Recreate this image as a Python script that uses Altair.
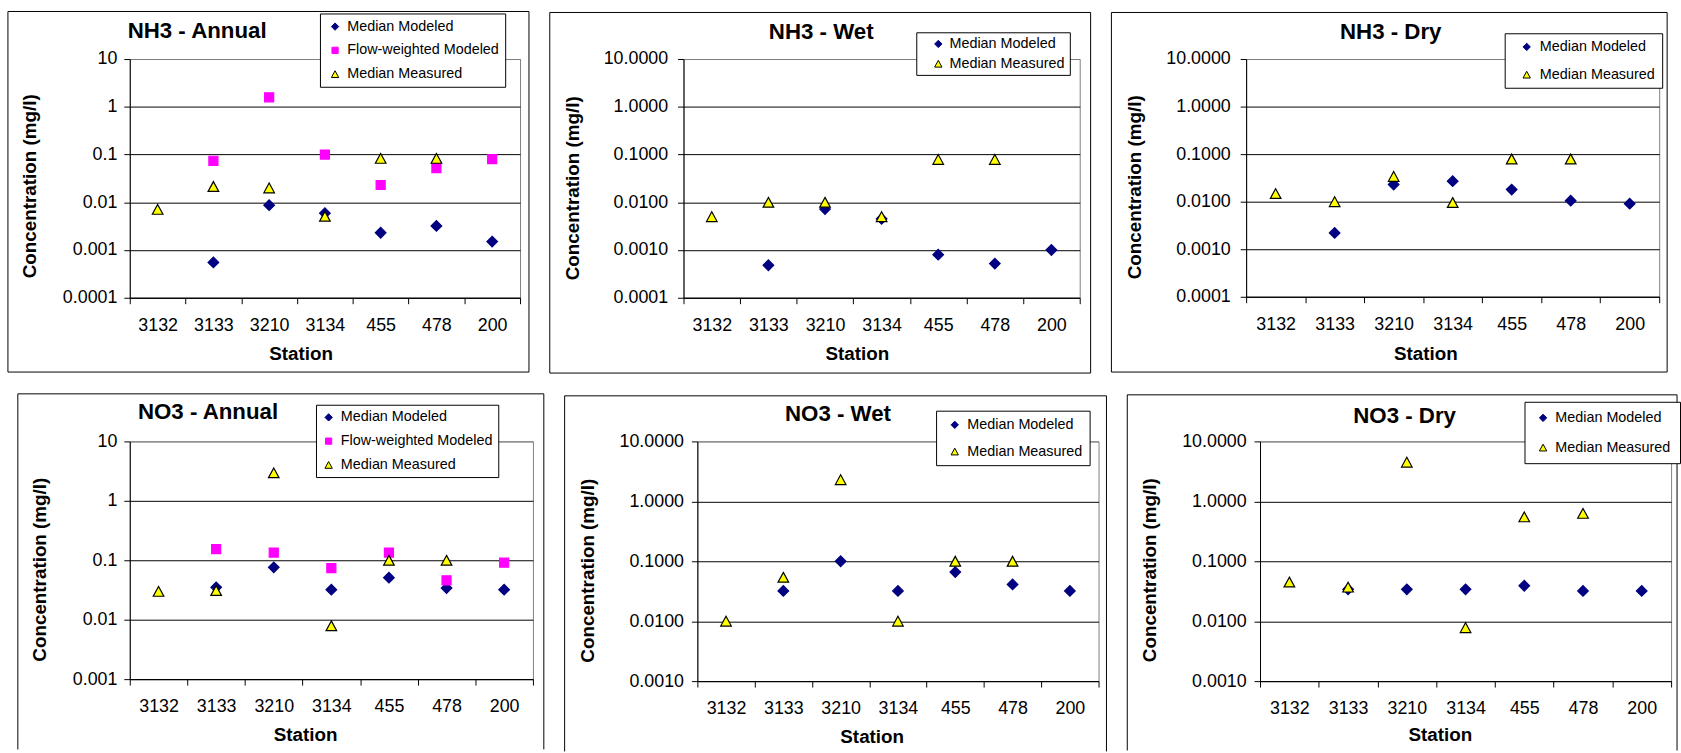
import altair as alt
import pandas as pd

FONT = "Liberation Sans"

stations = ["3132", "3133", "3210", "3134", "455", "478", "200"]
series_names = ["Median Modeled", "Flow-weighted Modeled", "Median Measured"]
series_fill = ["#000080", "#FF00FF", "#FFFF00"]
series_stroke = ["#000080", "#FF00FF", "#000000"]
series_shape = ["diamond",
                "M-0.85,-0.85L0.85,-0.85L0.85,0.85L-0.85,0.85Z",
                "M0,-0.92L1,0.92L-1,0.92Z"]

nh3_annual_modeled = [None, 0.00055, 0.0087, 0.0059, 0.0023, 0.0032, 0.0015]
nh3_annual_flow = [None, 0.074, 1.58, 0.10, 0.023, 0.052, 0.080]
nh3_annual_measured = [0.0071, 0.0214, 0.020, 0.0051, 0.083, 0.083, None]
nh3_wet_modeled = [None, 0.00048, 0.0072, 0.0045, 0.0008, 0.00052, 0.0010]
nh3_wet_measured = [0.005, 0.010, 0.010, 0.005, 0.079, 0.079, None]
nh3_dry_modeled = [None, 0.0022, 0.023, 0.027, 0.018, 0.0105, 0.0091]
nh3_dry_measured = [0.0148, 0.010, 0.034, 0.0096, 0.079, 0.079, None]
no3_annual_modeled = [None, 0.035, 0.076, 0.032, 0.051, 0.034, 0.032]
no3_annual_flow = [None, 0.154, 0.135, 0.074, 0.135, 0.046, 0.091]
no3_annual_measured = [0.030, 0.031, 2.96, 0.0079, 0.10, 0.10, None]
no3_wet_modeled = [None, 0.032, 0.10, 0.032, 0.066, 0.041, 0.032]
no3_wet_measured = [0.010, 0.054, 2.3, 0.010, 0.10, 0.10, None]
no3_dry_modeled = [None, 0.034, 0.034, 0.034, 0.039, 0.032, 0.032]
no3_dry_measured = [0.045, 0.037, 4.5, 0.0078, 0.55, 0.63, None]

nh3_ticks = [0.0001, 0.001, 0.01, 0.1, 1, 10]
no3_ticks = [0.001, 0.01, 0.1, 1, 10]

panels_row1 = [
    dict(title="NH3 - Annual", fmt="~g", ticks=nh3_ticks,
         series=[("Median Modeled", nh3_annual_modeled),
                 ("Flow-weighted Modeled", nh3_annual_flow),
                 ("Median Measured", nh3_annual_measured)],
         w=394, h=241, L=123, R=9, T=48, B=75, tx=68, ty=-28,
         ytx=-101, yty=128, xtx=172.5, xty=56, ylp=7,
         leg=dict(x=192, y=-46, pad=6, rp=9, so=2, lo=5)),
    dict(title="NH3 - Wet", fmt=".4f", ticks=nh3_ticks,
         series=[("Median Modeled", nh3_wet_modeled),
                 ("Median Measured", nh3_wet_measured)],
         w=400, h=241, L=135, R=11, T=47, B=76, tx=139, ty=-27,
         ytx=-112, yty=130, xtx=175, xty=56.5, ylp=10,
         leg=dict(x=235, y=-27, pad=4.5, rp=5, so=10.5, lo=4)),
    dict(title="NH3 - Dry", fmt=".4f", ticks=nh3_ticks,
         series=[("Median Modeled", nh3_dry_modeled),
                 ("Median Measured", nh3_dry_measured)],
         w=417, h=240, L=136, R=8, T=47, B=76, tx=146, ty=-27,
         ytx=-113, yty=129, xtx=181, xty=57, ylp=10,
         leg=dict(x=261, y=-26, pad=6.5, rp=13, so=8.5, lo=6)),
]
panels_row2 = [
    dict(title="NO3 - Annual", fmt="~g", ticks=no3_ticks,
         series=[("Median Modeled", no3_annual_modeled),
                 ("Flow-weighted Modeled", no3_annual_flow),
                 ("Median Measured", no3_annual_measured)],
         w=407, h=240, L=113, R=11, T=48, B=71, tx=79, ty=-30,
         ytx=-91.5, yty=129, xtx=177, xty=55.5, ylp=7,
         leg=dict(x=188, y=-37, pad=5.5, rp=9, so=0, lo=5)),
    dict(title="NO3 - Wet", fmt=".4f", ticks=no3_ticks,
         series=[("Median Modeled", no3_wet_modeled),
                 ("Median Measured", no3_wet_measured)],
         w=405, h=242, L=134, R=8, T=46, B=71, tx=142, ty=-28,
         ytx=-111, yty=130, xtx=176, xty=55.5, ylp=8,
         leg=dict(x=241, y=-31, pad=7, rp=12, so=4.6, lo=5.4)),
    dict(title="NO3 - Dry", fmt=".4f", ticks=no3_ticks,
         series=[("Median Modeled", no3_dry_modeled),
                 ("Median Measured", no3_dry_measured)],
         w=415, h=242, L=134, R=6, T=47, B=70, tx=146, ty=-26,
         ytx=-111, yty=129.5, xtx=181.5, xty=54, ylp=8,
         leg=dict(x=267, y=-40, pad=9, rp=15, so=2.5, lo=5.1)),
]


def one_row():
    return alt.Data(values=[{"k": 0}])


def make_panel(p, closed):
    rows = []
    for name, vals in p["series"]:
        for st, v in zip(stations, vals):
            if v is not None:
                rows.append({"station": st, "series": name, "value": v})
    df = pd.DataFrame(rows)
    names = [s[0] for s in p["series"]]
    idx = [series_names.index(n) for n in names]
    w, h, L, R, T, B = p["w"], p["h"], p["L"], p["R"], p["T"], p["B"]
    ticks = p["ticks"]
    lg = p["leg"]

    legend = alt.Legend(
        title=None, orient="none", legendX=lg["x"], legendY=lg["y"],
        padding=lg["pad"], rowPadding=lg["rp"], symbolOffset=lg["so"],
        labelOffset=lg["lo"], strokeColor="black", fillColor="white",
        cornerRadius=0, labelFont=FONT, labelFontSize=14.5, labelColor="black",
        symbolSize=55, symbolStrokeWidth=1, symbolOpacity=1,
    )
    xaxis = alt.Axis(
        title="Station", labelAngle=0, tickBand="extent", tickSize=6,
        tickColor="black", domainColor="black", labelFontSize=18,
        labelFont=FONT, labelColor="black", labelPadding=13,
        titleFontSize=19, titleFontWeight="bold", titleFont=FONT,
        titleColor="black", titleX=p["xtx"], titleY=p["xty"],
        titleBaseline="middle", titleAlign="center", grid=False,
    )
    yaxis = alt.Axis(
        values=ticks, format=p["fmt"], title="Concentration (mg/l)",
        titleFontSize=19, titleFontWeight="bold", titleFont=FONT,
        titleColor="black", titleX=p["ytx"], titleY=p["yty"],
        titleAngle=270, titleBaseline="middle", titleAlign="center",
        labelFontSize=18, labelFont=FONT, labelColor="black",
        labelPadding=p["ylp"], tickSize=6, tickColor="black",
        domainColor="black", grid=True, gridWidth=1,
        gridColor={"condition": {"test": "datum.value == %s" % ticks[-1],
                                 "value": "#808080"},
                   "value": "black"},
        labelOverlap=False, labelFlush=False,
    )

    pts = alt.Chart(df).mark_point(
        filled=True, opacity=1, size=115, strokeWidth=1.2
    ).encode(
        x=alt.X("station:N", sort=stations,
                scale=alt.Scale(domain=stations, paddingInner=0, paddingOuter=0),
                axis=xaxis),
        y=alt.Y("value:Q",
                scale=alt.Scale(type="log", domain=[ticks[0], ticks[-1]], nice=False),
                axis=yaxis),
        fill=alt.Fill("series:N",
                      scale=alt.Scale(domain=names, range=[series_fill[i] for i in idx]),
                      legend=legend),
        stroke=alt.Stroke("series:N",
                          scale=alt.Scale(domain=names, range=[series_stroke[i] for i in idx]),
                          legend=legend),
        shape=alt.Shape("series:N",
                        scale=alt.Scale(domain=names, range=[series_shape[i] for i in idx]),
                        legend=legend),
        order=alt.Order("ord:Q"),
    ).transform_calculate(
        ord="indexof(%s, datum.series)" % str(names)
    )

    title = alt.Chart(alt.Data(values=[{"t": p["title"]}])).mark_text(
        font=FONT, fontSize=22.5, fontWeight="bold", color="black",
        align="center", baseline="middle"
    ).encode(x=alt.value(p["tx"]), y=alt.value(p["ty"]), text="t:N")

    if closed:
        borders = [
            alt.Chart(one_row()).mark_rect(
                fill="white", fillOpacity=0, stroke="black", strokeWidth=1
            ).encode(x=alt.value(-L), x2=alt.value(w + R),
                     y=alt.value(-T), y2=alt.value(h + B))
        ]
    else:
        borders = [
            alt.Chart(one_row()).mark_rule(color="black", strokeWidth=1).encode(
                x=alt.value(-L), y=alt.value(-T), y2=alt.value(h + B)),
            alt.Chart(one_row()).mark_rule(color="black", strokeWidth=1).encode(
                x=alt.value(w + R), y=alt.value(-T), y2=alt.value(h + B)),
            alt.Chart(one_row()).mark_rule(color="black", strokeWidth=1).encode(
                x=alt.value(-L), x2=alt.value(w + R), y=alt.value(-T)),
        ]
    return alt.layer(*borders, title, pts).properties(width=w, height=h)


def indep(c):
    return c.resolve_scale(
        x="independent", y="independent", fill="independent",
        stroke="independent", shape="independent"
    ).resolve_legend(fill="independent", stroke="independent", shape="independent")


row1 = indep(alt.hconcat(*[make_panel(p, True) for p in panels_row1], spacing=19))
row2 = indep(alt.hconcat(*[make_panel(p, False) for p in panels_row2], spacing=19))

chart = indep(alt.vconcat(row1, row2, spacing=19)).properties(
    padding={"left": 7, "top": 7, "right": 0, "bottom": 0}
).configure(font=FONT, background="white").configure_view(
    stroke="#808080", strokeWidth=1
)

chart.save("out.html", embed_options={"renderer": "svg", "actions": False})
